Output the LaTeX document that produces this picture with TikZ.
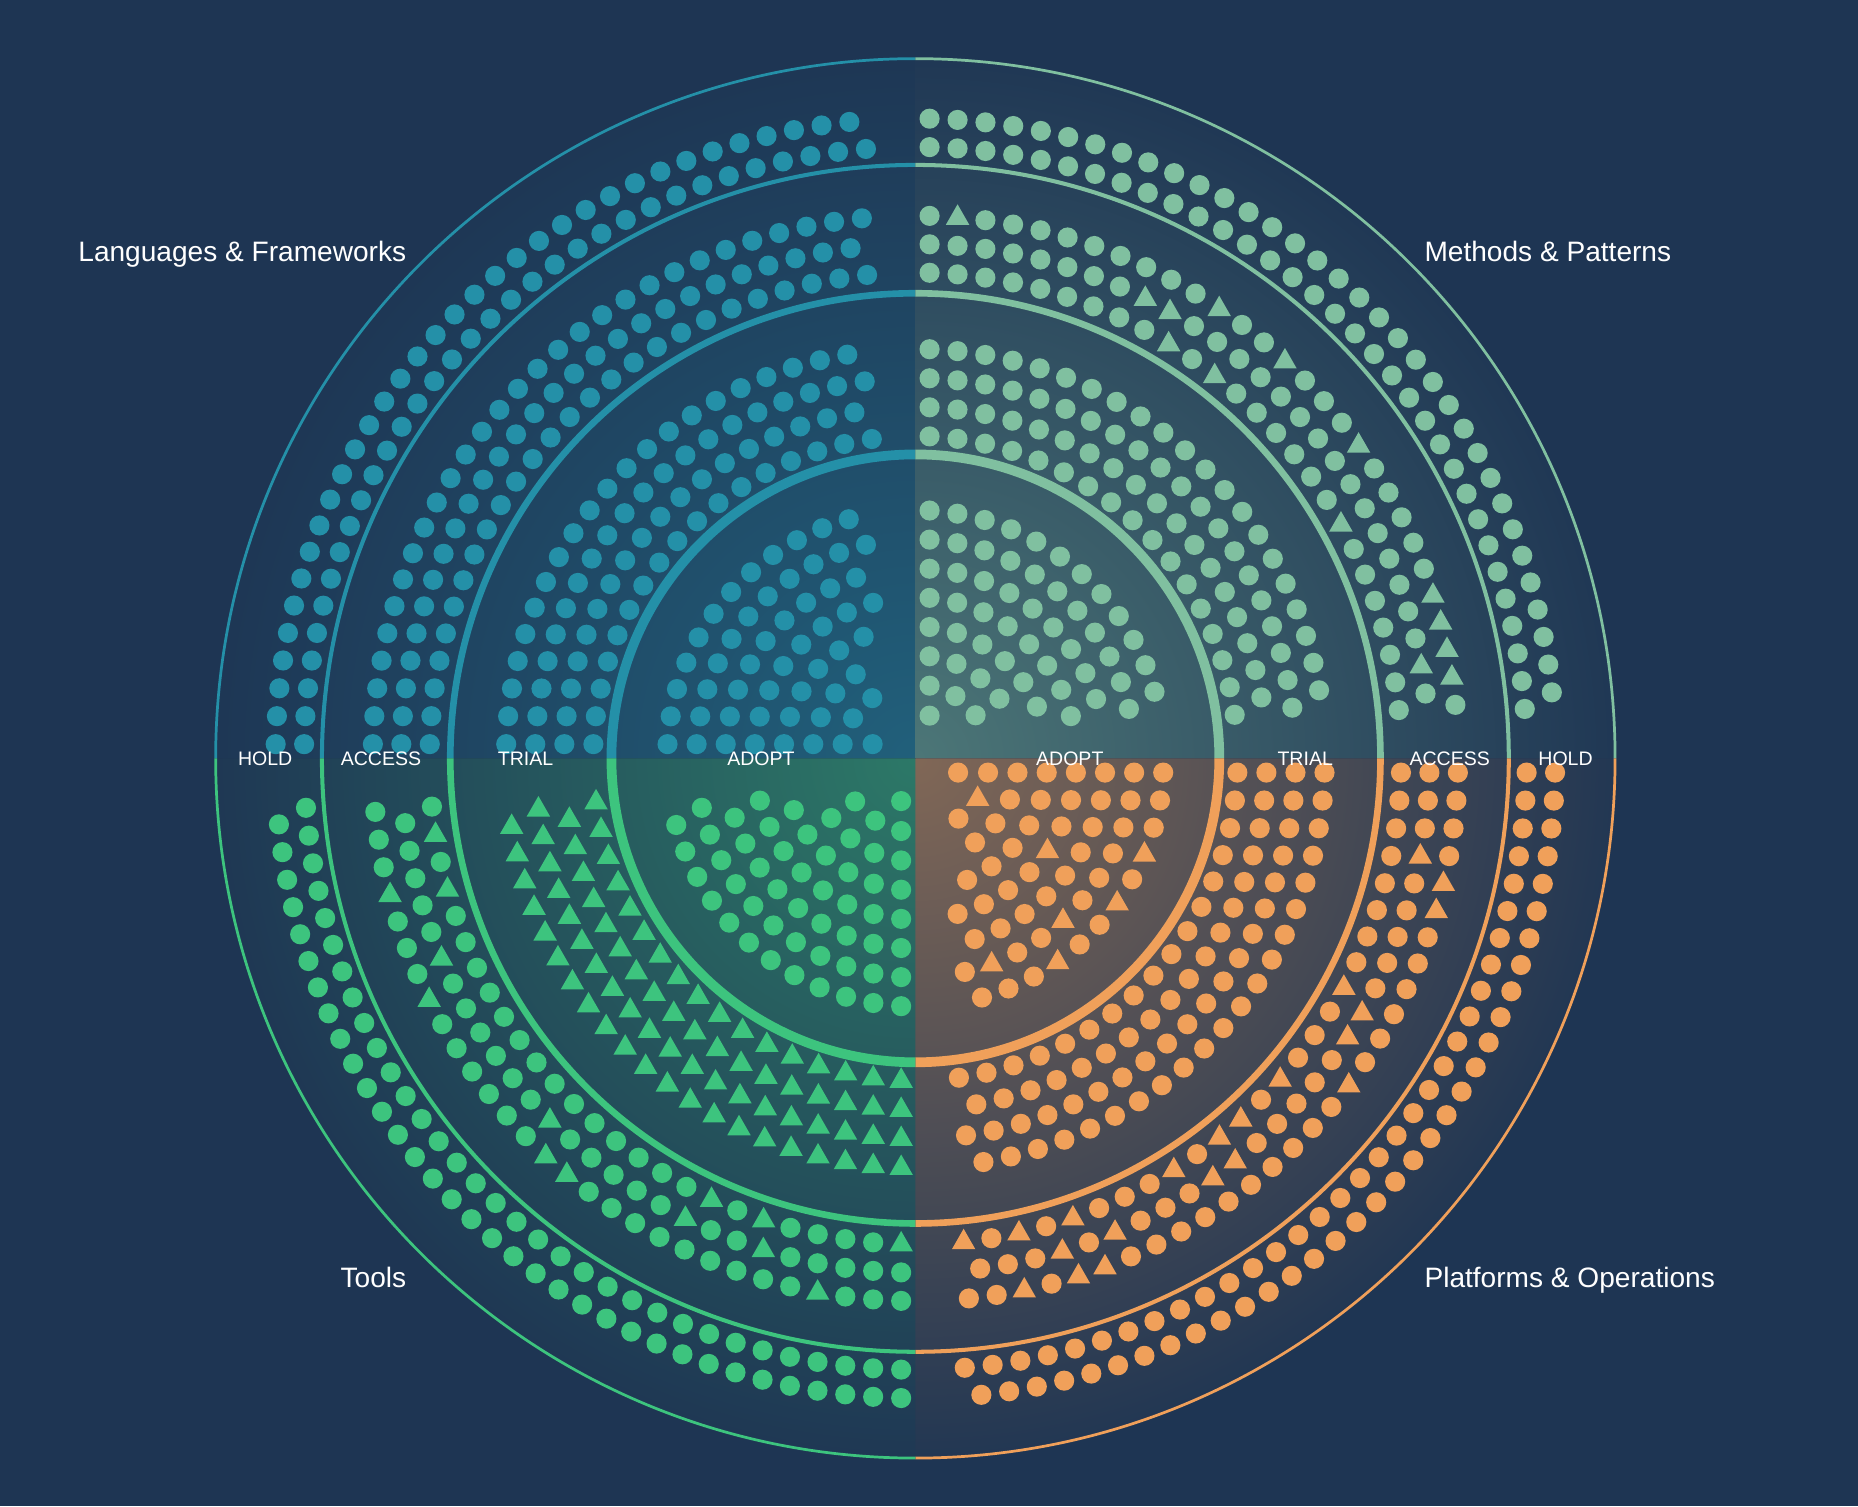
\documentclass[tikz,border=0pt]{standalone}
\usepackage{fontspec}
\setmainfont{Liberation Sans}
\definecolor{bgc}{HTML}{1E3553}
\definecolor{qTL}{HTML}{2490A8}
\definecolor{qTR}{HTML}{80C0A0}
\definecolor{qBR}{HTML}{F0A05A}
\definecolor{qBL}{HTML}{3DC47E}
\newcommand\settri[3]{\foreach \j in {#3}{\expandafter\xdef\csname tri-#1-#2-\j\endcsname{}}}
\settri{TR}{15}{1,11,14,18,24,25,26,27}
\settri{TR}{14}{8,9,25}
\settri{TR}{13}{9,11,18}
\settri{BR}{2}{1}
\settri{BR}{5}{3}
\settri{BR}{7}{6,9}
\settri{BR}{8}{3,5,8}
\settri{BR}{13}{8,12,14,15,17,21,23,25}
\settri{BR}{14}{3,9,10,16,17,21,23}
\settri{BR}{15}{4,5,12,23,24,26}
\settri{BL}{9}{0,...,16}
\settri{BL}{10}{0,...,17}
\settri{BL}{11}{0,...,19}
\settri{BL}{12}{0,...,20}
\settri{BL}{13}{0,5,7,22,24}
\settri{BL}{14}{5,8,14,21}
\settri{BL}{15}{3,13,14,21,25}
\tikzset{
  quadlabel/.style={text=white, inner sep=0pt, font=\fontsize{23.7}{28}\selectfont},
  ringlabel/.style={text=white, inner sep=0pt, anchor=base, font=\fontsize{16.5}{20}\selectfont}
}
\begin{document}
\begin{tikzpicture}[x=1pt,y=1pt]
\useasboundingbox (-772.5,-631) rectangle (795.5,640);
\fill[bgc] (-772.5,-631) rectangle (795.5,640);
% quadrant tints
\foreach \q/\A in {TL/180, TR/90, BR/0, BL/270} {
  \begin{scope}
    \clip (0,0) -- (\A:590.5) arc[start angle=\A, end angle=\A-90, radius=590.5] -- cycle;
    \shade[inner color=q\q!47!bgc, outer color=q\q!2!bgc] (0,0) circle (590.5);
  \end{scope}
}
% ring lines
\foreach \q/\A in {TL/180, TR/90, BR/0, BL/270} {
  \draw[q\q, line width=2.3pt] (\A:590.5) arc[start angle=\A, end angle=\A-90, radius=590.5];
  \draw[q\q, line width=3.4pt] (\A:500.8) arc[start angle=\A, end angle=\A-90, radius=500.8];
  \draw[q\q, line width=5.6pt] (\A:392.5) arc[start angle=\A, end angle=\A-90, radius=392.5];
  \draw[q\q, line width=8.2pt] (\A:256.5) arc[start angle=\A, end angle=\A-90, radius=256.5];
}
% blips
\foreach \q/\A in {TL/180, TR/90, BR/0, BL/270} {
  \foreach \k/\r/\n in {1/38/1, 2/62.5/3, 3/87/4, 4/111.5/6, 5/136/8, 6/160.5/9, 7/185/11, 8/209.5/12,
                        9/272/17, 10/296.5/18, 11/321/20, 12/345.5/21,
                        13/410/26, 14/434/27, 15/458/29, 16/516/33, 17/540/34} {
    \pgfmathsetmacro\off{asin(12/\r)}
    \pgfmathsetmacro\st{1355/\r}
    \pgfmathtruncatemacro\last{\n-1}
    \foreach \i in {0,...,\last} {
      \pgfmathsetmacro\th{\A-\off-\i*\st}
      \ifcsname tri-\q-\k-\i\endcsname
        \fill[q\q, shift={(\th:\r)}] (0,11) -- (-9.9,-6.3) -- (9.9,-6.3) -- cycle;
      \else
        \fill[q\q] (\th:\r) circle (8.5);
      \fi
    }
  }
}
% quadrant labels
\node[quadlabel, anchor=base east] (labLF) at (-429.5,419.2) {Languages \& Frameworks};
\node[quadlabel, anchor=base west] (labMP) at (429.5,419.2) {Methods \& Patterns};
\node[quadlabel, anchor=base east] (labTO) at (-429.5,-446.3) {Tools};
\node[quadlabel, anchor=base west] (labPO) at (429.5,-446.3) {Platforms \& Operations};
% ring labels
\node[ringlabel] (rlHL) at (-548.7,-6.4) {HOLD};
\node[ringlabel] (rlAL) at (-451,-6.4) {ACCESS};
\node[ringlabel] (rlTL) at (-329,-6.4) {TRIAL};
\node[ringlabel] (rlDL) at (-130.3,-6.4) {ADOPT};
\node[ringlabel] (rlDR) at (130.3,-6.4) {ADOPT};
\node[ringlabel] (rlTR) at (329,-6.4) {TRIAL};
\node[ringlabel] (rlAR) at (451,-6.4) {ACCESS};
\node[ringlabel] (rlHR) at (548.7,-6.4) {HOLD};
\end{tikzpicture}
\end{document}
